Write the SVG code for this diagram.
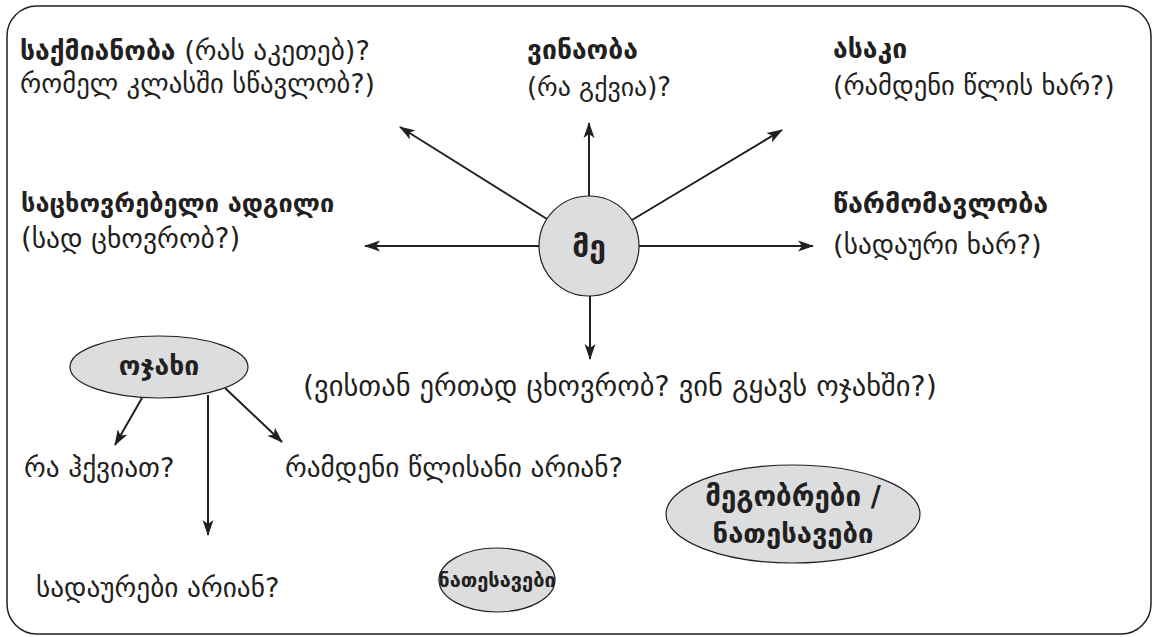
<svg xmlns="http://www.w3.org/2000/svg" width="1154" height="637" viewBox="0 0 1154 637">
<defs>
<marker id="ah" viewBox="0 0 16 12" refX="15" refY="6" markerWidth="16" markerHeight="12" markerUnits="userSpaceOnUse" orient="auto">
<path d="M0,0.5 L16,6 L0,11.5 L4,6 Z" fill="#231f20"/>
</marker>
<style>
.t{font-family:"DejaVu Sans","Noto Sans",sans-serif;font-size:27.3px;fill:#231f20}
.b{font-weight:bold;font-size:26.5px}
.ln{stroke:#231f20;stroke-width:2;fill:none;marker-end:url(#ah)}
.nd{fill:#dcdddf;stroke:#231f20;stroke-width:1.2}
</style>
</defs>
<rect x="7" y="6" width="1144" height="628" rx="30" ry="30" fill="#fff" stroke="#231f20" stroke-width="1.5"/>
<g id="connectors">
<line class="ln" x1="547" y1="219" x2="400" y2="127"/>
<line class="ln" x1="589" y1="196" x2="589" y2="123"/>
<line class="ln" x1="632" y1="220" x2="782" y2="130"/>
<line class="ln" x1="539" y1="246" x2="365" y2="246"/>
<line class="ln" x1="639" y1="246" x2="813" y2="246"/>
<line class="ln" x1="590" y1="296" x2="590" y2="359"/>
<line class="ln" x1="142" y1="398" x2="115" y2="445"/>
<line class="ln" x1="225" y1="388" x2="282" y2="442"/>
<line class="ln" x1="208" y1="395" x2="208" y2="535"/>
</g>
<g id="me"><circle class="nd" cx="589" cy="246" r="50"/><text class="t b" x="589" y="257" text-anchor="middle" style="font-size:30px">მე</text></g>
<g id="saqmianoba"><text class="t" x="20" y="60"><tspan class="b">საქმიანობა</tspan> (რას აკეთებ)?</text><text class="t" x="20" y="93" style="font-size:26.7px">რომელ კლასში სწავლობ?)</text></g>
<g id="vinaoba"><text class="t b" x="527" y="59">ვინაობა</text><text class="t" x="527" y="96" style="font-size:25.9px">(რა გქვია)?</text></g>
<g id="asaki"><text class="t b" x="833" y="58">ასაკი</text><text class="t" x="833" y="95" style="font-size:26.6px">(რამდენი წლის ხარ?)</text></g>
<g id="sacxovrebeli"><text class="t b" x="21" y="212" style="font-size:25.3px">საცხოვრებელი ადგილი</text><text class="t" x="21" y="248" style="font-size:27.5px">(სად ცხოვრობ?)</text></g>
<g id="carmomavloba"><text class="t b" x="833" y="213" style="font-size:26.9px">წარმომავლობა</text><text class="t" x="833" y="254">(სადაური ხარ?)</text></g>
<g id="visTan"><text class="t" x="303" y="396" style="font-size:28.5px">(ვისთან ერთად ცხოვრობ? ვინ გყავს ოჯახში?)</text></g>
<g id="ojaxi"><ellipse class="nd" cx="159" cy="367" rx="89" ry="31"/><text class="t b" x="159" y="375" text-anchor="middle">ოჯახი</text></g>
<g id="ra-hqviat"><text class="t" x="24" y="477">რა ჰქვიათ?</text></g>
<g id="ramdeni"><text class="t" x="285" y="477">რამდენი წლისანი არიან?</text></g>
<g id="sadaurebi"><text class="t" x="36" y="597">სადაურები არიან?</text></g>
<g id="megobrebi"><ellipse class="nd" cx="793" cy="514" rx="127" ry="49"/><text class="t b" x="793" y="506" text-anchor="middle" style="font-size:27.7px">მეგობრები /</text><text class="t b" x="793" y="543" text-anchor="middle" style="font-size:27.4px">ნათესავები</text></g>
<g id="natesavebi"><ellipse class="nd" cx="497" cy="580" rx="58" ry="32"/><text class="t b" x="497" y="587" text-anchor="middle" style="font-size:20px">ნათესავები</text></g>
</svg>
